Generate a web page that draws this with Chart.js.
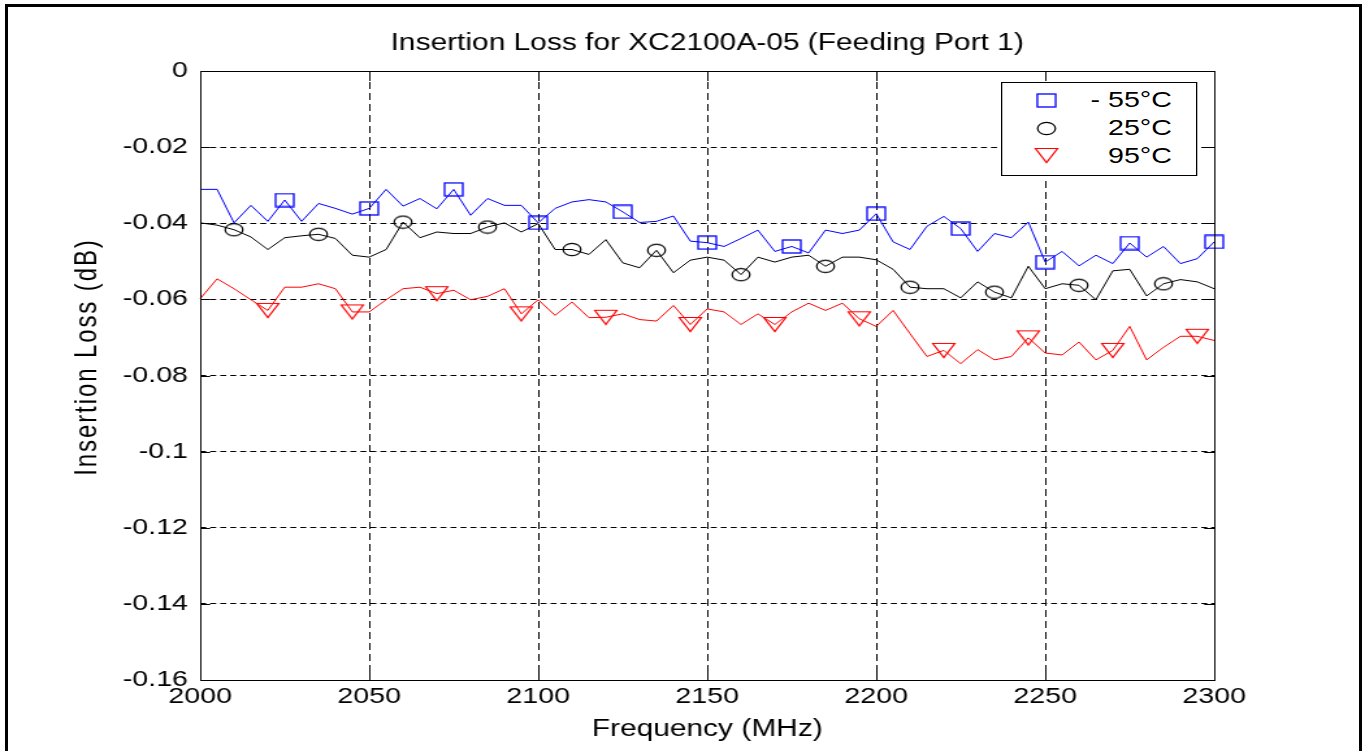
<!DOCTYPE html>
<html>
<head>
<meta charset="utf-8">
<script src="https://cdn.jsdelivr.net/npm/chart.js@4.4.1/dist/chart.umd.min.js"></script>
<style>
  html, body { margin: 0; padding: 0; background: #fff; overflow: hidden; }
  #frame {
    position: absolute; left: 5px; top: 4px; width: 1357px; height: 800px;
    box-sizing: border-box; border: 3px solid #000; border-bottom: none;
    pointer-events: none; z-index: 5;
  }
  /* the whole figure is stretched sideways like the source image */
  #wrap {
    position: absolute; left: 0; top: 0; width: 1050px; height: 751px;
    transform: scaleX(1.3); transform-origin: 0 0;
  }
  #legend {
    position: absolute; left: 770px; top: 82px; width: 151px; height: 94px;
    box-sizing: border-box; border: 1px solid #000; background: #fff;
    font-family: "Liberation Sans", Arial, sans-serif; font-size: 22px; color: #000;
  }
  #legend canvas { position: absolute; }
  #legend span { position: absolute; right: 18.5px; line-height: 22px; white-space: pre; }
</style>
</head>
<body>
<div id="frame"></div>
<div id="wrap">
  <canvas id="chart" width="1050" height="751" style="width:1050px;height:751px"></canvas>
  <div id="legend"></div>
</div>
<script>
//frequency axis (MHz)
const freq = [
  2000, 2005, 2010, 2015, 2020, 2025, 2030, 2035, 2040, 2045,
  2050, 2055, 2060, 2065, 2070, 2075, 2080, 2085, 2090, 2095,
  2100, 2105, 2110, 2115, 2120, 2125, 2130, 2135, 2140, 2145,
  2150, 2155, 2160, 2165, 2170, 2175, 2180, 2185, 2190, 2195,
  2200, 2205, 2210, 2215, 2220, 2225, 2230, 2235, 2240, 2245,
  2250, 2255, 2260, 2265, 2270, 2275, 2280, 2285, 2290, 2295,
  2300
];
//insertion loss at -55 C
const lossCold = [
  -0.0311, -0.0311, -0.0399, -0.0353, -0.0395, -0.0339, -0.0395, -0.0348, -0.0361, -0.0376,
  -0.0361, -0.0311, -0.0355, -0.0335, -0.0362, -0.0311, -0.0379, -0.0335, -0.0353, -0.0353,
  -0.0399, -0.0361, -0.0344, -0.0338, -0.0344, -0.0370, -0.0398, -0.0395, -0.0381, -0.0447,
  -0.0451, -0.0461, -0.0440, -0.0418, -0.0474, -0.0461, -0.0478, -0.0418, -0.0427, -0.0418,
  -0.0375, -0.0449, -0.0469, -0.0408, -0.0382, -0.0414, -0.0474, -0.0427, -0.0438, -0.0397,
  -0.0502, -0.0474, -0.0512, -0.0484, -0.0506, -0.0452, -0.0489, -0.0461, -0.0506, -0.0493,
  -0.0449
];
//insertion loss at 25 C
const lossRoom = [
  -0.0399, -0.0405, -0.0417, -0.0436, -0.0469, -0.0438, -0.0433, -0.0429, -0.0440, -0.0484,
  -0.0489, -0.0469, -0.0397, -0.0438, -0.0423, -0.0427, -0.0427, -0.0410, -0.0399, -0.0423,
  -0.0401, -0.0469, -0.0469, -0.0482, -0.0443, -0.0504, -0.0517, -0.0471, -0.0530, -0.0497,
  -0.0489, -0.0497, -0.0535, -0.0489, -0.0502, -0.0489, -0.0484, -0.0513, -0.0489, -0.0489,
  -0.0496, -0.0521, -0.0568, -0.0572, -0.0572, -0.0596, -0.0554, -0.0581, -0.0596, -0.0513,
  -0.0572, -0.0559, -0.0563, -0.0601, -0.0525, -0.0521, -0.0591, -0.0559, -0.0548, -0.0554,
  -0.0572
];
//insertion loss at 95 C
const lossHot = [
  -0.0598, -0.0546, -0.0572, -0.0601, -0.0629, -0.0568, -0.0568, -0.0559, -0.0572, -0.0633,
  -0.0633, -0.0601, -0.0572, -0.0568, -0.0585, -0.0576, -0.0601, -0.0592, -0.0572, -0.0638,
  -0.0601, -0.0642, -0.0607, -0.0648, -0.0647, -0.0638, -0.0653, -0.0657, -0.0616, -0.0666,
  -0.0625, -0.0633, -0.0666, -0.0638, -0.0666, -0.0633, -0.0610, -0.0629, -0.0610, -0.0651,
  -0.0671, -0.0629, -0.0690, -0.0750, -0.0734, -0.0769, -0.0732, -0.0759, -0.0750, -0.0701,
  -0.0741, -0.0746, -0.0712, -0.0759, -0.0734, -0.0671, -0.0759, -0.0726, -0.0697, -0.0697,
  -0.0708
];
//frequencies where a marker is drawn
const marksCold = [2025, 2050, 2075, 2100, 2125, 2150, 2175, 2200, 2225, 2250, 2275, 2300];
const marksRoom = [2010, 2035, 2060, 2085, 2110, 2135, 2160, 2185, 2210, 2235, 2260, 2285];
const marksHot = [2020, 2045, 2070, 2095, 2120, 2145, 2170, 2195, 2220, 2245, 2270, 2295];
const seriesLabels = ["- 55\u00B0C", "25\u00B0C", "95\u00B0C"];
const seriesColors = ["#0000ff", "#000000", "#ff0000"];
const xTicks = [2000, 2050, 2100, 2150, 2200, 2250, 2300];
const yTitle = "Insertion Loss (dB)";

//small canvases used as point markers (drawn narrow, the page stretch widens them)
function makeMarker(kind, color) {
  const c = document.createElement("canvas");
  const g = c.getContext("2d");
  if (kind === "rect") {
    c.width = 16; c.height = 15;
    g.strokeStyle = color; g.lineWidth = 1.3;
    g.strokeRect(1, 1, 14, 13);
  } else if (kind === "circle") {
    c.width = 16; c.height = 15;
    g.strokeStyle = color; g.lineWidth = 1.2;
    g.beginPath();
    g.ellipse(8, 7.5, 6.8, 6.2, 0, 0, Math.PI * 2);
    g.stroke();
  } else {
    c.width = 20; c.height = 17;
    g.strokeStyle = color; g.lineWidth = 1.2;
    g.beginPath();
    g.moveTo(1.5, 1.5); g.lineTo(18.5, 1.5); g.lineTo(10, 15.5); g.closePath();
    g.stroke();
  }
  return c;
}
const markerKinds = ["rect", "circle", "triangle"];
const markerSets = [marksCold, marksRoom, marksHot];
const lossSets = [lossCold, lossRoom, lossHot];

const datasets = lossSets.map((vals, s) => ({
  label: seriesLabels[s],
  data: freq.map((f, i) => ({ x: f, y: vals[i] })),
  borderColor: seriesColors[s],
  borderWidth: 1,
  tension: 0,
  fill: false,
  clip: false,
  pointStyle: makeMarker(markerKinds[s], seriesColors[s]),
  pointRadius: (ctx) => (ctx.raw && markerSets[s].includes(ctx.raw.x) ? 8 : 0),
  pointHoverRadius: 0,
}));

//plot box, inward tick marks and the spaced-out y title, like the matlab axes
const boxPlugin = {
  id: "box",
  afterDatasetsDraw(chart) {
    const { ctx, chartArea: a, scales } = chart;
    ctx.save();
    ctx.strokeStyle = "#000";
    ctx.lineWidth = 1;
    ctx.setLineDash([]);
    ctx.strokeRect(a.left + 0.5, a.top + 0.5, a.right - a.left, a.bottom - a.top);
    ctx.beginPath();
    xTicks.forEach((v) => {
      const px = Math.round(scales.x.getPixelForValue(v)) + 0.5;
      ctx.moveTo(px, a.bottom); ctx.lineTo(px, a.bottom - 10);
      ctx.moveTo(px, a.top); ctx.lineTo(px, a.top + 10);
    });
    scales.y.ticks.forEach((t) => {
      const py = Math.round(scales.y.getPixelForValue(t.value)) + 0.5;
      ctx.moveTo(a.left, py); ctx.lineTo(a.left + 7.7, py);
      ctx.moveTo(a.right, py); ctx.lineTo(a.right - 7.7, py);
    });
    ctx.stroke();

    ctx.translate(66.9, 357);
    ctx.rotate(-Math.PI / 2);
    ctx.font = '24px "Liberation Sans", Arial, sans-serif';
    ctx.letterSpacing = "1.9px";
    ctx.textAlign = "center";
    ctx.textBaseline = "middle";
    ctx.fillStyle = "#000";
    ctx.fillText(yTitle, 0, 0);
    ctx.letterSpacing = "0px";
    ctx.restore();
  },
};

Chart.defaults.font.family = '"Liberation Sans", Arial, sans-serif';
Chart.defaults.color = "#000";

new Chart(document.getElementById("chart"), {
  type: "line",
  data: { datasets: datasets },
  plugins: [boxPlugin],
  options: {
    responsive: false,
    animation: false,
    devicePixelRatio: 1,
    layout: { padding: { left: 0, right: 116, top: 0, bottom: 0 } },
    plugins: {
      legend: { display: false },
      tooltip: { enabled: false },
      title: {
        display: true,
        fullSize: false,
        text: "Insertion Loss for XC2100A-05 (Feeding Port 1)",
        font: { size: 23, weight: "normal" },
        padding: { top: 30.2, bottom: 13.2 },
      },
    },
    scales: {
      x: {
        type: "linear",
        min: 2000,
        max: 2300,
        afterFit: (s) => { s.height = 71; },
        afterBuildTicks: (s) => { s.ticks = xTicks.map((v) => ({ value: v })); },
        ticks: {
          callback: (v) => String(v),
          font: { size: 22 },
          padding: 4,
          maxRotation: 0,
        },
        grid: { color: "#000", lineWidth: 1, drawTicks: false },
        border: { display: false, dash: [7, 4] },
        title: {
          display: true,
          text: "Frequency (MHz)",
          font: { size: 23 },
          padding: { top: 0, bottom: 7.2 },
        },
      },
      y: {
        min: -0.16,
        max: 0,
        afterFit: (s) => { s.width = 154; },
        ticks: {
          stepSize: 0.02,
          callback: (v) => String(+Number(v).toFixed(2)),
          font: { size: 22 },
          padding: 9.4,
        },
        grid: { color: "#000", lineWidth: 1, drawTicks: false },
        border: { display: false, dash: [4.6, 3.1] },
        title: { display: false },
      },
    },
  },
});

//legend box (marker left, label right aligned)
const legend = document.getElementById("legend");
const rowY = [17, 45, 72.5];
seriesLabels.forEach((lab, s) => {
  const m = makeMarker(markerKinds[s], seriesColors[s]);
  m.style.left = (33.6 - m.width / 2) + "px";
  m.style.top = (rowY[s] - m.height / 2) + "px";
  legend.appendChild(m);
  const t = document.createElement("span");
  t.textContent = lab;
  t.style.top = (rowY[s] - 10.7) + "px";
  legend.appendChild(t);
});
</script>
</body>
</html>
